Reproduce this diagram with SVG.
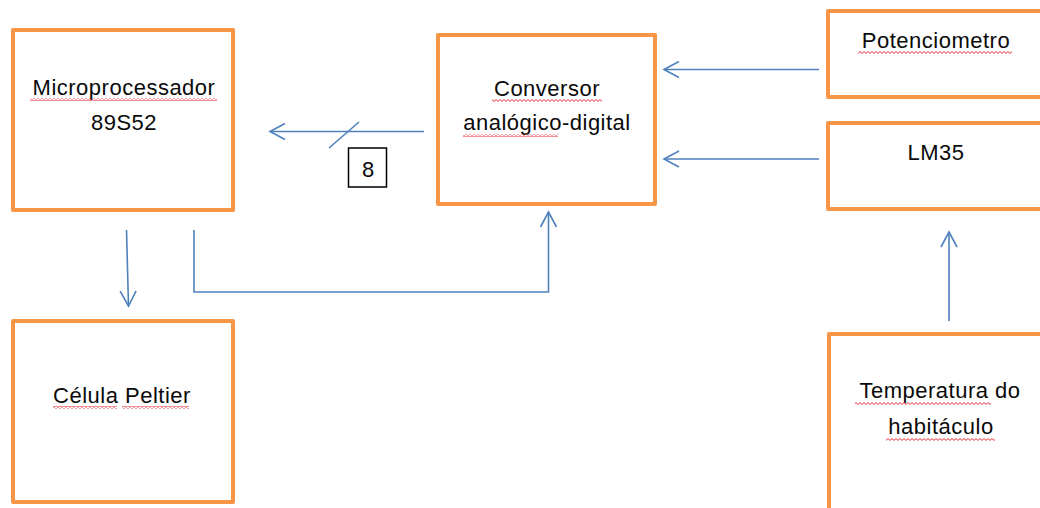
<svg xmlns="http://www.w3.org/2000/svg" width="1040" height="508" viewBox="0 0 1040 508">
  <style>
    .box { fill: #ffffff; stroke: #F79646; stroke-width: 4; stroke-linejoin: round; }
    .lbl { font-family: "Liberation Sans", Arial, sans-serif; font-size: 22px; letter-spacing: 0.5px; fill: #0a0a0a; text-anchor: middle; }
    .conn { fill: none; stroke: #4F81BD; stroke-width: 1.6; }
    .sq { fill: url(#squig); }
  </style>
  <defs>
    <marker id="open" markerUnits="userSpaceOnUse" markerWidth="20" markerHeight="20" viewBox="-16 -10 20 20" refX="0" refY="0" orient="auto">
      <path d="M-15,-8 L0,0 L-15,8" fill="none" stroke="#4F81BD" stroke-width="1.6"/>
    </marker>
    <pattern id="squig" patternUnits="userSpaceOnUse" x="0" y="0" width="4" height="3">
      <path d="M0,0.6 L2,2.4 L4,0.6" fill="none" stroke="#E8323C" stroke-width="1"/>
    </pattern>
  </defs>
  <rect width="1040" height="508" fill="#ffffff"/>

  <g id="connectors">
    <path class="conn" d="M424,131.5 L270,131.5" marker-end="url(#open)"/>
    <path class="conn" d="M329,148 L359,122"/>
    <path class="conn" d="M819,69.5 L664,69.5" marker-end="url(#open)"/>
    <path class="conn" d="M819,159 L664,159" marker-end="url(#open)"/>
    <path class="conn" d="M126.5,230 L128.5,306" marker-end="url(#open)"/>
    <path class="conn" d="M194,230 L194,292 L548.5,292 L548.5,212" marker-end="url(#open)"/>
    <path class="conn" d="M949,321 L949,232" marker-end="url(#open)"/>
    <g id="bus-width">
      <rect x="348.5" y="148" width="38" height="39" fill="#ffffff" stroke="#000000" stroke-width="1.5"/>
      <text x="368" y="177" class="lbl" style="letter-spacing:0">8</text>
    </g>
  </g>

  <g id="microprocessador">
    <rect class="box" x="13" y="30" width="220" height="180"/>
    <text class="lbl" x="124" y="95">Microprocessador</text>
    <text class="lbl" x="124" y="130">89S52</text>
    <rect class="sq" x="30" y="98" width="187" height="3"/>
  </g>

  <g id="conversor">
    <rect class="box" x="438" y="35" width="217" height="169"/>
    <text class="lbl" x="547" y="96">Conversor</text>
    <text class="lbl" x="547" y="130">analógico-digital</text>
    <rect class="sq" x="492" y="99" width="110" height="3"/>
    <rect class="sq" x="463" y="134" width="95" height="3"/>
  </g>

  <g id="potenciometro">
    <rect class="box" x="828" y="11" width="240" height="86"/>
    <text class="lbl" x="936" y="48">Potenciometro</text>
    <rect class="sq" x="858" y="51" width="154" height="3"/>
  </g>

  <g id="lm35">
    <rect class="box" x="828" y="123" width="240" height="86"/>
    <text class="lbl" x="936" y="160">LM35</text>
  </g>

  <g id="celula-peltier">
    <rect class="box" x="13" y="321" width="220" height="181"/>
    <text class="lbl" x="122" y="403">Célula Peltier</text>
    <rect class="sq" x="53" y="406" width="64" height="3"/>
    <rect class="sq" x="122" y="406" width="67" height="3"/>
  </g>

  <g id="temperatura">
    <rect class="box" x="829" y="334" width="240" height="200"/>
    <text class="lbl" x="940" y="398">Temperatura do</text>
    <text class="lbl" x="941" y="434">habitáculo</text>
    <rect class="sq" x="855" y="402" width="136" height="3"/>
    <rect class="sq" x="886" y="438" width="109" height="3"/>
  </g>
</svg>
